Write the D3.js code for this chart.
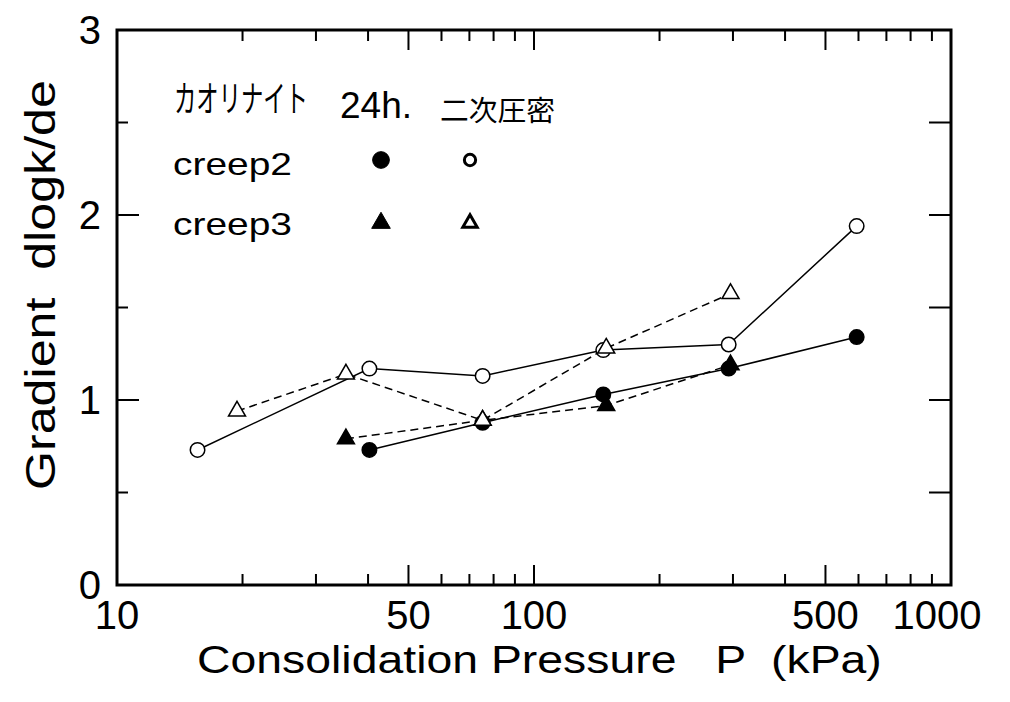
<!DOCTYPE html>
<html>
<head>
<meta charset="utf-8">
<script src="https://cdn.jsdelivr.net/npm/d3@7"></script>
<style>
  body { margin: 0; background: #fff; }
  svg { display: block; }
  text { font-family: "Liberation Sans", Arial, Helvetica, sans-serif; fill: #000; }
  .jp { font-family: "Noto Sans CJK JP", sans-serif; }
</style>
</head>
<body>
<div id="chart"></div>
<script>
// --- data ---
const creep2Daily = [[40.3, 0.73], [75.3, 0.877], [146.6, 1.03], [293, 1.17], [594, 1.34]];
const creep2Second = [[15.6, 0.73], [40.3, 1.17], [75.3, 1.13], [146.6, 1.27], [293, 1.30], [594, 1.94]];
const creep3Daily = [[35.4, 0.79], [75.3, 0.89], [149, 0.97], [296, 1.19]];
const creep3Second = [[19.4, 0.94], [35.4, 1.14], [75.3, 0.89], [149, 1.28], [296, 1.575]];

const xLabelTicks = [10, 50, 100, 500, 1000];
const xMajorTicks = [50, 100, 500];
const xMinorTicks = [20, 30, 40, 60, 70, 80, 90, 200, 300, 400, 600, 700, 800, 900];
const yLabelTicks = [0, 1, 2, 3];
const yMinorTicks = [0.5, 1.5, 2.5];

const width = 1010, height = 702;
const margin = { top: 30, right: 59, bottom: 117, left: 117 };

const svg = d3.select("#chart").append("svg")
  .attr("width", width)
  .attr("height", height);

const x = d3.scaleLog()
  .domain([10, 1000])
  .range([margin.left, width - margin.right]);

const y = d3.scaleLinear()
  .domain([0, 3])
  .range([height - margin.bottom, margin.top]);

const x0 = x.range()[0], x1 = x.range()[1];
const y0 = y.range()[0], y1 = y.range()[1];

// text squeezed/stretched horizontally to a given width
function fitText(cls, tx, ty, w, size, str, rotate) {
  const t = svg.append("text")
    .attr("class", cls)
    .style("font-size", size + "px")
    .style("white-space", "pre")
    .text(str);
  const k = w / t.node().getComputedTextLength();
  t.attr("transform", `translate(${tx},${ty})${rotate ? " rotate(-90)" : ""} scale(${k},1)`);
  return t;
}

// ticks (drawn inward on all four sides)
const ticks = svg.append("g").attr("stroke", "#000").attr("stroke-width", 2);
xMajorTicks.forEach((v) => {
  ticks.append("line").attr("x1", x(v)).attr("x2", x(v)).attr("y1", y0).attr("y2", y0 - 20);
  ticks.append("line").attr("x1", x(v)).attr("x2", x(v)).attr("y1", y1).attr("y2", y1 + 20);
});
xMinorTicks.forEach((v) => {
  ticks.append("line").attr("x1", x(v)).attr("x2", x(v)).attr("y1", y0).attr("y2", y0 - 11);
  ticks.append("line").attr("x1", x(v)).attr("x2", x(v)).attr("y1", y1).attr("y2", y1 + 11);
});
yLabelTicks.slice(1, 3).forEach((v) => {
  ticks.append("line").attr("x1", x0).attr("x2", x0 + 22).attr("y1", y(v)).attr("y2", y(v));
  ticks.append("line").attr("x1", x1).attr("x2", x1 - 22).attr("y1", y(v)).attr("y2", y(v));
});
yMinorTicks.forEach((v) => {
  ticks.append("line").attr("x1", x0).attr("x2", x0 + 11).attr("y1", y(v)).attr("y2", y(v));
  ticks.append("line").attr("x1", x1).attr("x2", x1 - 22).attr("y1", y(v)).attr("y2", y(v));
});

// frame
svg.append("rect")
  .attr("x", x0).attr("y", y1)
  .attr("width", x1 - x0).attr("height", y0 - y1)
  .attr("fill", "none").attr("stroke", "#000").attr("stroke-width", 3);

// tick labels
svg.append("g").selectAll("text")
  .data(xLabelTicks)
  .join("text")
  .attr("x", (d) => x(d) - (d === 1000 ? 14 : 0))
  .attr("y", 629)
  .attr("text-anchor", "middle")
  .style("font-size", "40px")
  .text((d) => d);

svg.append("g").selectAll("text")
  .data(yLabelTicks)
  .join("text")
  .attr("x", 101)
  .attr("y", (d) => y(d) + 14)
  .attr("text-anchor", "end")
  .style("font-size", "40px")
  .text((d) => d);

// axis titles
fitText("", 197, 673, 685, 38, "Consolidation Pressure   P  (kPa)");
fitText("", 55, 490, 410, 42, "Gradient  dlogk/de", true);

// series
const line = d3.line().x((d) => x(d[0])).y((d) => y(d[1]));
const series = [
  { data: creep2Daily, dash: null, shape: d3.symbolCircle, filled: true, size: 165 },
  { data: creep2Second, dash: null, shape: d3.symbolCircle, filled: false, size: 165 },
  { data: creep3Daily, dash: "8,5", shape: d3.symbolTriangle, filled: true, size: 125 },
  { data: creep3Second, dash: "8,5", shape: d3.symbolTriangle, filled: false, size: 125 }
];

series.forEach((s) => {
  svg.append("path")
    .datum(s.data)
    .attr("d", line)
    .attr("fill", "none")
    .attr("stroke", "#000")
    .attr("stroke-width", 1.5)
    .attr("stroke-dasharray", s.dash);
});

series.forEach((s) => {
  svg.append("g").selectAll("path")
    .data(s.data)
    .join("path")
    .attr("transform", (d) => `translate(${x(d[0])},${y(d[1])})`)
    .attr("d", d3.symbol().type(s.shape).size(s.size))
    .attr("fill", s.filled ? "#000" : "#fff")
    .attr("stroke", "#000")
    .attr("stroke-width", 1.5);
});

// legend
fitText("jp", 174, 112, 134, 36, "カオリナイト");
svg.append("text")
  .attr("x", 340).attr("y", 118)
  .style("font-size", "37px")
  .text("24h.");
fitText("jp", 440, 121, 115, 29, "二次圧密");
fitText("", 173, 175, 119, 31, "creep2");
fitText("", 173, 235, 119, 31, "creep3");

const legendMarks = [
  { cx: 381, cy: 160, shape: d3.symbolCircle, filled: true, size: 220 },
  { cx: 470, cy: 160, shape: d3.symbolCircle, filled: false, size: 100 },
  { cx: 381, cy: 223, shape: d3.symbolTriangle, filled: true, size: 150 },
  { cx: 470, cy: 223, shape: d3.symbolTriangle, filled: false, size: 90 }
];
svg.append("g").selectAll("path")
  .data(legendMarks)
  .join("path")
  .attr("transform", (d) => `translate(${d.cx},${d.cy})`)
  .attr("d", (d) => d3.symbol().type(d.shape).size(d.size)())
  .attr("fill", (d) => (d.filled ? "#000" : "#fff"))
  .attr("stroke", "#000")
  .attr("stroke-width", (d) => (d.filled ? 1 : 3));
</script>
</body>
</html>
